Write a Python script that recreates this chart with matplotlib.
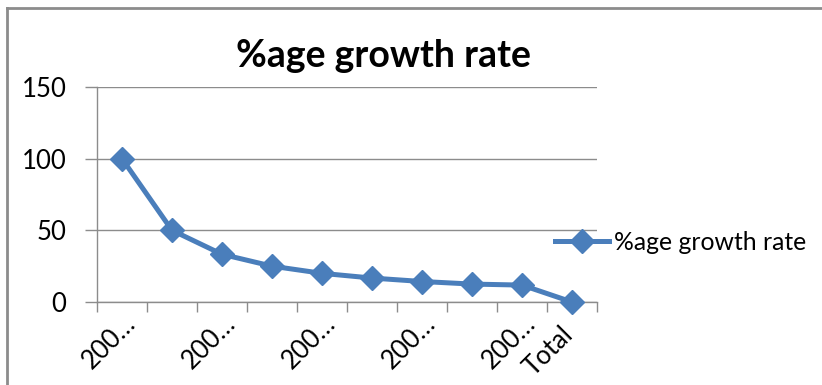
import matplotlib

matplotlib.use("Agg")
import matplotlib.pyplot as plt
from matplotlib.lines import Line2D

plt.rcParams["font.family"] = ["Lato", "DejaVu Sans"]

# growth rate per year, last point is the overall total
categories = ["200…", "200…", "200…", "200…", "200…", "200…", "200…", "200…", "200…", "Total"]
growth = [100, 50, 33.3, 25, 20, 16.7, 14.3, 12.5, 11.8, 0]
shown_labels = [0, 2, 4, 6, 8, 9]
series_name = "%age growth rate"

BLUE = "#4a7ebb"
GRID = "#8c8c8c"

fig = plt.figure(figsize=(8.22, 3.85), dpi=100)
ax = fig.add_axes([97 / 822, 1 - 302 / 385, 500 / 822, 215 / 385])

x = list(range(len(growth)))
ax.plot(x, growth, color=BLUE, linewidth=3.6, marker="D",
        markersize=12, markeredgecolor=BLUE, clip_on=False, zorder=3)

ax.set_xlim(-0.5, len(growth) - 0.5)
ax.set_ylim(0, 150)
ax.set_yticks([0, 50, 100, 150])
ax.yaxis.grid(True, color=GRID, linewidth=1)
ax.set_axisbelow(True)

# category boundaries carry the tick marks, labels sit at category centres
ax.set_xticks([i - 0.5 for i in range(len(growth) + 1)])
ax.set_xticklabels([])
ax.tick_params(axis="x", length=7, width=1, color=GRID)
ax.tick_params(axis="y", length=9, width=1, color=GRID, labelsize=18.5, pad=13)
for i in shown_labels:
    if categories[i] == "Total":
        dx, ty = -0.05, -20
    else:
        dx, ty = 0.2, -12
    ax.text(i + dx, ty, categories[i], rotation=45, rotation_mode="anchor",
            ha="right", va="center", fontsize=18.5)

for side in ("top", "right"):
    ax.spines[side].set_visible(False)
for side in ("left", "bottom"):
    ax.spines[side].set_color(GRID)
    ax.spines[side].set_linewidth(1)

fig.text(383 / 822, 1 - 67 / 385, series_name, ha="center", va="baseline",
         fontsize=27, fontweight="bold")

handle = Line2D([], [], color=BLUE, linewidth=3.6, marker="D", markersize=12)
fig.legend([handle], [series_name], loc="center left",
           bbox_to_anchor=(555 / 822, 1 - 242 / 385), frameon=False,
           fontsize=17.8, handlelength=2.2, handletextpad=0.17, borderpad=0,
           borderaxespad=0)

# outer chart frame
fig.add_artist(Line2D([7 / 822, 1], [1 - 8 / 385] * 2, color=GRID, linewidth=2))
fig.add_artist(Line2D([7 / 822] * 2, [0, 1 - 8 / 385], color=GRID, linewidth=2))

fig.savefig("out.png", dpi=100)
